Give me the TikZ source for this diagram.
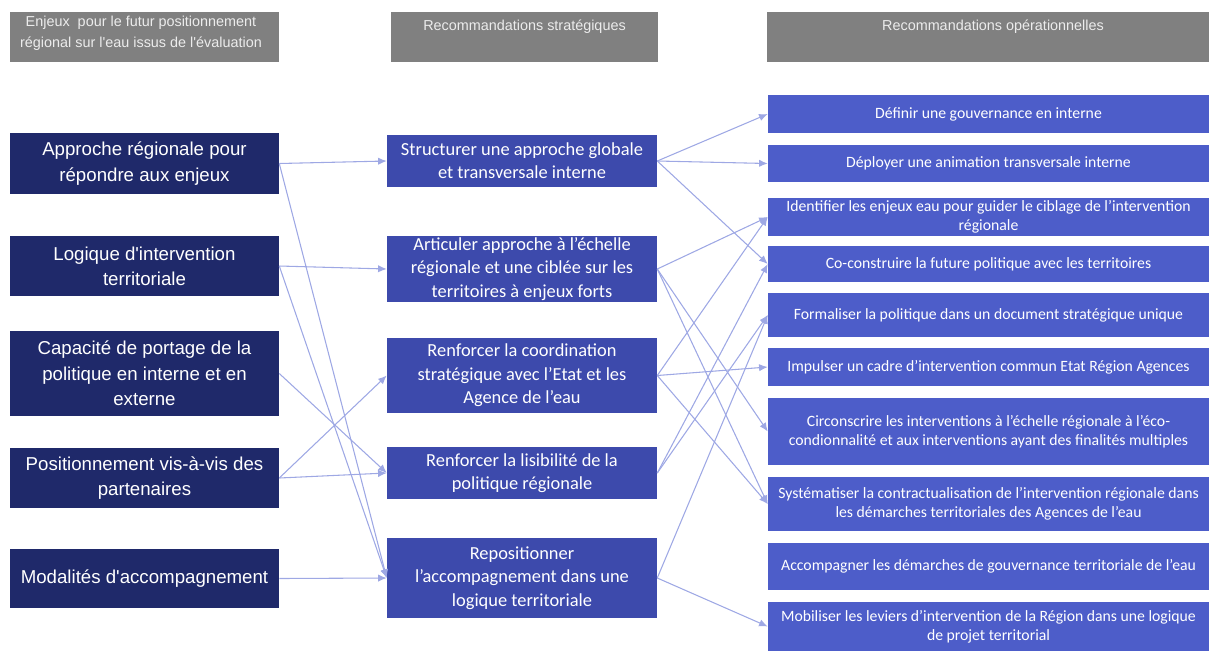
\documentclass[tikz,border=0pt]{standalone}
\usepackage{fontspec}
\setmainfont{Carlito}
\newfontfamily\arialfont{Liberation Sans}
\usepackage{tikz}
\usetikzlibrary{arrows.meta}

\definecolor{navybox}{RGB}{31,41,106}
\definecolor{stratbox}{RGB}{61,74,172}
\definecolor{opbox}{RGB}{77,93,201}
\definecolor{headgray}{RGB}{128,128,128}
\definecolor{headtext}{RGB}{236,236,236}
\definecolor{linkblue}{RGB}{158,168,228}

\begin{document}
\begin{tikzpicture}[x=0.75pt,y=0.75pt,yscale=-1,xscale=1,
  headbox/.style={fill=headgray, inner sep=0pt, minimum height=37.5pt},
  headlabel/.style={text=headtext, font=\arialfont\fontsize{10.8}{15.5}\selectfont, align=center, anchor=north, inner sep=0pt},
  enjeu/.style={fill=navybox, text=white, font=\arialfont\fontsize{14}{19}\selectfont, align=center, minimum width=201.75pt, inner sep=0pt},
  strat/.style={fill=stratbox, text=white, font=\fontsize{13.8}{17.5}\selectfont, align=center, minimum width=202.5pt, inner sep=0pt},
  oper/.style={fill=opbox, text=white, font=\fontsize{11.8}{14.5}\selectfont, align=center, minimum width=330.75pt, inner sep=0pt},
  link/.style={draw=linkblue, line width=0.8pt, -{Latex[length=6.5pt,width=5.5pt]}}
]
\useasboundingbox (0,0) rectangle (1209,651);

% Headers
\node [headbox, minimum width=201.75pt] (hEnjeux) at (144.5,37) {};
\node [headbox, minimum width=200.25pt] (hStrat) at (524.5,37) {};
\node [headbox, minimum width=331.5pt] (hOper) at (988,37) {};
\node [headlabel] (tEnjeux) at (141,16) {Enjeux~ pour le futur positionnement\\r\'egional sur l'eau issus de l'\'evaluation};
\node [headlabel] (tStrat) at (524.5,20) {Recommandations strat\'egiques};
\node [headlabel] (tOper) at (993,20) {Recommandations op\'erationnelles};

% Enjeux
\node [enjeu, minimum height=45.75pt] (A1) at (144.5,163.5) {Approche r\'egionale pour\\r\'epondre aux enjeux};
\node [enjeu, minimum height=45pt] (A2) at (144.5,266) {Logique d'intervention\\territoriale};
\node [enjeu, minimum height=63.75pt] (A3) at (144.5,373.5) {Capacit\'e de portage de la\\politique en interne et en\\externe};
\node [enjeu, minimum height=45pt] (A4) at (144.5,478) {Positionnement vis-\`a-vis des\\partenaires};
\node [enjeu, minimum height=44.25pt] (A5) at (144.5,578.5) {Modalit\'es d'accompagnement};

% Recommandations strategiques
\node [strat, minimum height=39pt] (B1) at (522,161) {Structurer une approche globale\\et transversale interne};
\node [strat, minimum height=49.5pt] (B2) at (522,269) {Articuler approche \`a l'\'echelle\\r\'egionale et une cibl\'ee sur les\\territoires \`a enjeux forts};
\node [strat, minimum height=56.25pt] (B3) at (522,375.5) {Renforcer la coordination\\strat\'egique avec l'Etat et les\\Agence de l'eau};
\node [strat, minimum height=39pt] (B4) at (522,473) {Renforcer la lisibilit\'e de la\\politique r\'egionale};
\node [strat, minimum height=60pt] (B5) at (522,578) {Repositionner\\l'accompagnement dans une\\logique territoriale};

% Recommandations operationnelles
\node [oper, minimum height=28.5pt] (C1) at (988.5,114) {D\'efinir une gouvernance en interne};
\node [oper, minimum height=27.75pt] (C2) at (988.5,163.5) {D\'eployer une animation transversale interne};
\node [oper, minimum height=28.5pt] (C3) at (988.5,217) {Identifier les enjeux eau pour guider le ciblage de l'intervention\\r\'egionale};
\node [oper, minimum height=27pt] (C4) at (988.5,264) {Co-construire la future politique avec les territoires};
\node [oper, minimum height=33pt] (C5) at (988.5,315) {Formaliser la politique dans un document strat\'egique unique};
\node [oper, minimum height=28.5pt] (C6) at (988.5,367) {Impulser un cadre d'intervention commun Etat R\'egion Agences};
\node [oper, minimum height=50.25pt] (C7) at (988.5,431.5) {Circonscrire les interventions \`a l'\'echelle r\'egionale \`a l'\'eco-\\condionnalit\'e et aux interventions ayant des finalit\'es multiples};
\node [oper, minimum height=40.5pt] (C8) at (988.5,504) {Syst\'ematiser la contractualisation de l'intervention r\'egionale dans\\les d\'emarches territoriales des Agences de l'eau};
\node [oper, minimum height=35.25pt] (C9) at (988.5,566.5) {Accompagner les d\'emarches de gouvernance territoriale de l'eau};
\node [oper, minimum height=36.75pt] (C10) at (988.5,626.5) {Mobiliser les leviers d'intervention de la R\'egion dans une logique\\de projet territorial};

% Enjeux -> strategiques
\draw [link] (A1.east) -- (B1.west);
\draw [link] (A1.east) -- (B5.west);
\draw [link] (A2.east) -- (B2.west);
\draw [link] (A2.east) -- (B5.west);
\draw [link] (A3.east) -- (B4.west);
\draw [link] (A4.east) -- (B3.west);
\draw [link] (A4.east) -- (B4.west);
\draw [link] (A5.east) -- (B5.west);

% strategiques -> operationnelles
\draw [link] (B1.east) -- (C1.west);
\draw [link] (B1.east) -- (C2.west);
\draw [link] (B1.east) -- (C4.west);
\draw [link] (B2.east) -- (C3.west);
\draw [link] (B2.east) -- (C7.west);
\draw [link] (B2.east) -- (C8.west);
\draw [link] (B3.east) -- (C3.west);
\draw [link] (B3.east) -- (C6.west);
\draw [link] (B3.east) -- (C8.west);
\draw [link] (B4.east) -- (C4.west);
\draw [link] (B4.east) -- (C5.west);
\draw [link] (B5.east) -- (C5.west);
\draw [link] (B5.east) -- (C10.west);

\end{tikzpicture}
\end{document}
